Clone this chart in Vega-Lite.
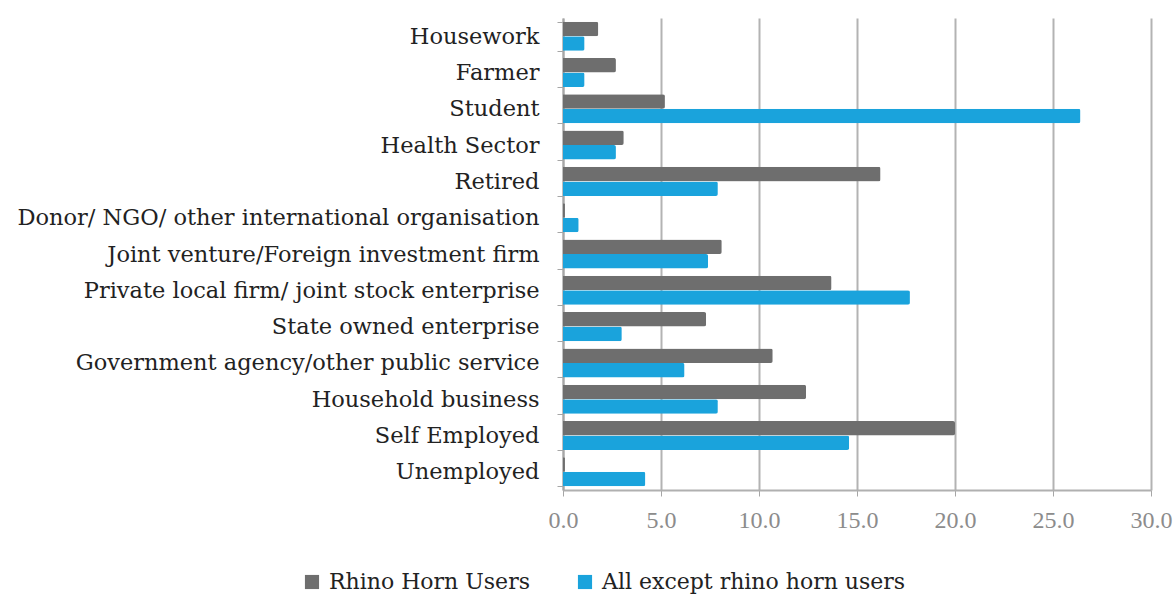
{
  "$schema": "https://vega.github.io/schema/vega-lite/v6.json",
  "width": 588,
  "height": 472,
  "autosize": {"type": "none"},
  "padding": {"left": 563, "top": 18, "right": 22, "bottom": 110},
  "background": "white",
  "config": {
    "font": "DejaVu Serif",
    "view": {"stroke": null}
  },
  "data": {
    "values": [
      {"category": "Housework", "series": "Rhino Horn Users", "value": 1.8},
      {"category": "Housework", "series": "All except rhino horn users", "value": 1.1},
      {"category": "Farmer", "series": "Rhino Horn Users", "value": 2.7},
      {"category": "Farmer", "series": "All except rhino horn users", "value": 1.1},
      {"category": "Student", "series": "Rhino Horn Users", "value": 5.2},
      {"category": "Student", "series": "All except rhino horn users", "value": 26.4},
      {"category": "Health Sector", "series": "Rhino Horn Users", "value": 3.1},
      {"category": "Health Sector", "series": "All except rhino horn users", "value": 2.7},
      {"category": "Retired", "series": "Rhino Horn Users", "value": 16.2},
      {"category": "Retired", "series": "All except rhino horn users", "value": 7.9},
      {"category": "Donor/ NGO/ other international organisation", "series": "Rhino Horn Users", "value": 0.1},
      {"category": "Donor/ NGO/ other international organisation", "series": "All except rhino horn users", "value": 0.8},
      {"category": "Joint venture/Foreign investment firm", "series": "Rhino Horn Users", "value": 8.1},
      {"category": "Joint venture/Foreign investment firm", "series": "All except rhino horn users", "value": 7.4},
      {"category": "Private local firm/ joint stock enterprise", "series": "Rhino Horn Users", "value": 13.7},
      {"category": "Private local firm/ joint stock enterprise", "series": "All except rhino horn users", "value": 17.7},
      {"category": "State owned enterprise", "series": "Rhino Horn Users", "value": 7.3},
      {"category": "State owned enterprise", "series": "All except rhino horn users", "value": 3.0},
      {"category": "Government agency/other public service", "series": "Rhino Horn Users", "value": 10.7},
      {"category": "Government agency/other public service", "series": "All except rhino horn users", "value": 6.2},
      {"category": "Household business", "series": "Rhino Horn Users", "value": 12.4},
      {"category": "Household business", "series": "All except rhino horn users", "value": 7.9},
      {"category": "Self Employed", "series": "Rhino Horn Users", "value": 20.0},
      {"category": "Self Employed", "series": "All except rhino horn users", "value": 14.6},
      {"category": "Unemployed", "series": "Rhino Horn Users", "value": 0.1},
      {"category": "Unemployed", "series": "All except rhino horn users", "value": 4.2}
    ]
  },
  "mark": {"type": "bar", "cornerRadiusEnd": 2},
  "encoding": {
    "y": {
      "field": "category",
      "type": "nominal",
      "sort": ["Housework", "Farmer", "Student", "Health Sector", "Retired", "Donor/ NGO/ other international organisation", "Joint venture/Foreign investment firm", "Private local firm/ joint stock enterprise", "State owned enterprise", "Government agency/other public service", "Household business", "Self Employed", "Unemployed"],
      "scale": {"paddingInner": 0.2, "paddingOuter": 0.1},
      "axis": {
        "title": null,
        "labelFont": "DejaVu Serif",
        "labelFontSize": 22.5,
        "labelColor": "#222222",
        "labelPadding": 18,
        "labelLimit": 600,
        "domainColor": "#a6a6a6",
        "domainWidth": 2,
        "tickColor": "#a6a6a6",
        "tickSize": 6,
        "tickBand": "extent",
        "grid": false
      }
    },
    "yOffset": {
      "field": "series",
      "type": "nominal",
      "sort": ["Rhino Horn Users", "All except rhino horn users"]
    },
    "x": {
      "field": "value",
      "type": "quantitative",
      "scale": {"domain": [0, 30], "nice": false},
      "axis": {
        "title": null,
        "values": [0, 5, 10, 15, 20, 25, 30],
        "format": ".1f",
        "labelFont": "Liberation Serif",
        "labelFontSize": 24,
        "labelColor": "#8c8c8c",
        "labelPadding": 12,
        "labelFlush": false,
        "domainColor": "#b0b0b0",
        "domainWidth": 2,
        "tickColor": "#a6a6a6",
        "tickSize": 6,
        "grid": true,
        "gridColor": "#b3b3b3",
        "gridWidth": 2
      }
    },
    "color": {
      "field": "series",
      "type": "nominal",
      "sort": ["Rhino Horn Users", "All except rhino horn users"],
      "scale": {"domain": ["Rhino Horn Users", "All except rhino horn users"], "range": ["#6e6e6e", "#1aa3dc"]},
      "legend": {
        "title": null,
        "orient": "none",
        "direction": "horizontal",
        "legendX": -262,
        "legendY": 553,
        "symbolType": "square",
        "symbolSize": 200,
        "symbolStrokeWidth": 0,
        "labelFont": "DejaVu Serif",
        "labelFontSize": 22,
        "labelColor": "#222222",
        "labelLimit": 400,
        "columnPadding": 44,
        "labelOffset": 6
      }
    }
  }
}
